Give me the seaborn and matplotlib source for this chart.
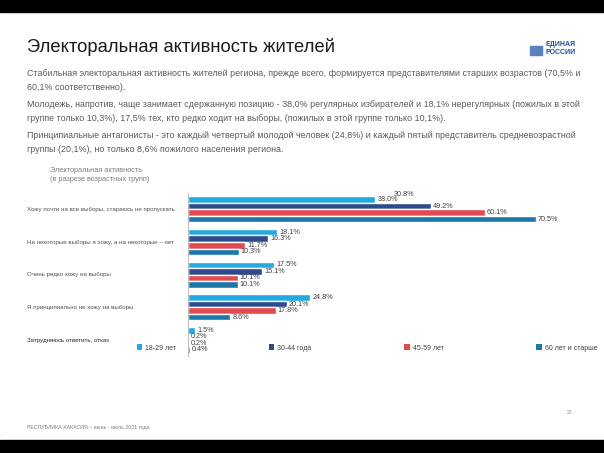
import matplotlib
matplotlib.use("Agg")
import matplotlib.pyplot as plt
import matplotlib.transforms as mtransforms
from matplotlib.patches import Rectangle, Patch
import seaborn as sns
import pandas as pd

# данные диаграммы
categories = [
    "Хожу почти на все выборы, стараюсь не пропускать",
    "На некоторые выборы я хожу, а на некоторые – нет",
    "Очень редко хожу на выборы",
    "Я принципиально не хожу на выборы",
    "Затрудняюсь ответить, отказ",
]
groups = ["18-29 лет", "30-44 года", "45-59 лет", "60 лет и старше"]
v_18_29 = [38.0, 18.1, 17.5, 24.8, 1.5]
v_30_44 = [49.2, 16.3, 15.1, 20.1, 0.2]
v_45_59 = [60.1, 11.7, 10.1, 17.8, 0.2]
v_60_plus = [70.5, 10.3, 10.1, 8.6, 0.4]
stray_label = "30.8%"  # лишняя подпись над первой группой

colors = ["#23A9E1", "#2C4A8C", "#E24A4F", "#1C78A8"]

title = "Электоральная активность жителей"
paragraphs = [
    "Стабильная электоральная активность жителей региона, прежде всего, формируется представителями старших возрастов (70,5% и\n"
    "60,1% соответственно).",
    "Молодежь, напротив, чаще занимает сдержанную позицию - 38,0% регулярных избирателей и 18,1% нерегулярных (пожилых в этой\n"
    "группе только 10,3%), 17,5% тех, кто редко ходит на выборы, (пожилых в этой группе только 10,1%).",
    "Принципиальные антагонисты - это каждый четвертый молодой человек (24,8%) и каждый пятый представитель средневозрастной\n"
    "группы (20,1%), но только 8,6% пожилого населения региона.",
]
chart_caption = "Электоральная активность\n(в разрезе возрастных групп)"
footer = "РЕСПУБЛИКА ХАКАСИЯ – июнь - июль 2021 года"
page_no = "27"

rows = []
for g, vals in zip(groups, [v_18_29, v_30_44, v_45_59, v_60_plus]):
    for c, v in zip(categories, vals):
        rows.append({"cat": c, "group": g, "value": v})
df = pd.DataFrame(rows)

sns.set_theme(style="white")
plt.rcParams["font.family"] = ["Liberation Sans", "DejaVu Sans"]

W, H = 604, 453
fig = plt.figure(figsize=(W / 100, H / 100), dpi=100)
fig.patch.set_facecolor("white")

def fx(px):
    return px / W

def fy(py):
    return 1 - py / H

# черные полосы сверху и снизу
fig.patches.append(Rectangle((0, fy(12)), 1, 12 / H, transform=fig.transFigure, color="black", zorder=10))
fig.patches.append(Rectangle((0, 0), 1, 13 / H, transform=fig.transFigure, color="black", zorder=10))

# заголовок и текст
fig.text(fx(27), fy(47), title, fontsize=13.2, color="#1a1a1a", va="center", ha="left")
fig.text(fx(546), fy(44), "ЕДИНАЯ", fontsize=5, color="#1F4E9A", fontweight="bold", va="center")
fig.text(fx(546), fy(52), "РОССИИ", fontsize=5, color="#1F4E9A", fontweight="bold", va="center")
fig.patches.append(Rectangle((fx(530), fy(55)), 12 / W, 9 / H, transform=fig.transFigure, color="#5b7fc0"))

para_y = [80.5, 111.5, 142.5]
for p, y in zip(paragraphs, para_y):
    fig.text(fx(27), fy(y), p, fontsize=6.4, color="#595959", va="center", ha="left", linespacing=1.62)

fig.text(fx(50), fy(175), chart_caption, fontsize=5.3, color="#7f7f7f", va="center", ha="left", linespacing=1.3)
fig.text(fx(27), fy(427), footer, fontsize=3.8, color="#7f7f7f", va="center", ha="left")
fig.text(fx(567), fy(413), page_no, fontsize=3.8, color="#7f7f7f", va="center", ha="left")

# область диаграммы
ax_left, ax_right = 187.7, 560
ax_top, ax_bottom = 193, 356.4
ax = fig.add_axes([fx(ax_left), fy(ax_bottom), (ax_right - ax_left) / W, (ax_bottom - ax_top) / H])
ax.set_facecolor("none")

sns.barplot(data=df, y="cat", x="value", hue="group", order=categories, hue_order=groups,
            palette=colors, width=0.8, orient="h", ax=ax, legend=False, saturation=1)

ax.set_xlim(0, (ax_right - ax_left) / 4.94)
ax.set_xlabel("")
ax.set_ylabel("")
ax.set_xticks([])
ax.set_yticks([])
for s in ["top", "right", "bottom"]:
    ax.spines[s].set_visible(False)
ax.spines["left"].set_color("#BFBFBF")
ax.spines["left"].set_linewidth(0.8)

for cont in ax.containers:
    ax.bar_label(cont, fmt="%.1f%%", fontsize=5.2, color="#404040", padding=1.5)

# лишняя подпись из оригинала
first_bar = ax.containers[0][0]
ax.annotate(stray_label, xy=(first_bar.get_width(), first_bar.get_y()), xytext=(13, 1),
            textcoords="offset points", fontsize=5.2, color="#404040", va="center")

# подписи категорий слева (последняя в оригинале темнее)
trans = mtransforms.blended_transform_factory(fig.transFigure, ax.transData)
for i, c in enumerate(categories):
    col = "#262626" if i == len(categories) - 1 else "#505050"
    ax.text(fx(27), i, c, transform=trans, fontsize=4.4, color=col, va="center", ha="left")

# легенда
handles = [Patch(facecolor=col, edgecolor="none") for col in colors]
fig.legend(handles, groups, ncol=4, loc="center left", mode="expand",
           bbox_to_anchor=(fx(134), fy(348) - 0.01, fx(600) - fx(134), 0.02),
           frameon=False, fontsize=5, handlelength=0.8, handleheight=0.8,
           handletextpad=0.4, borderaxespad=0, labelcolor="#404040")

fig.savefig("out.png", dpi=100)
